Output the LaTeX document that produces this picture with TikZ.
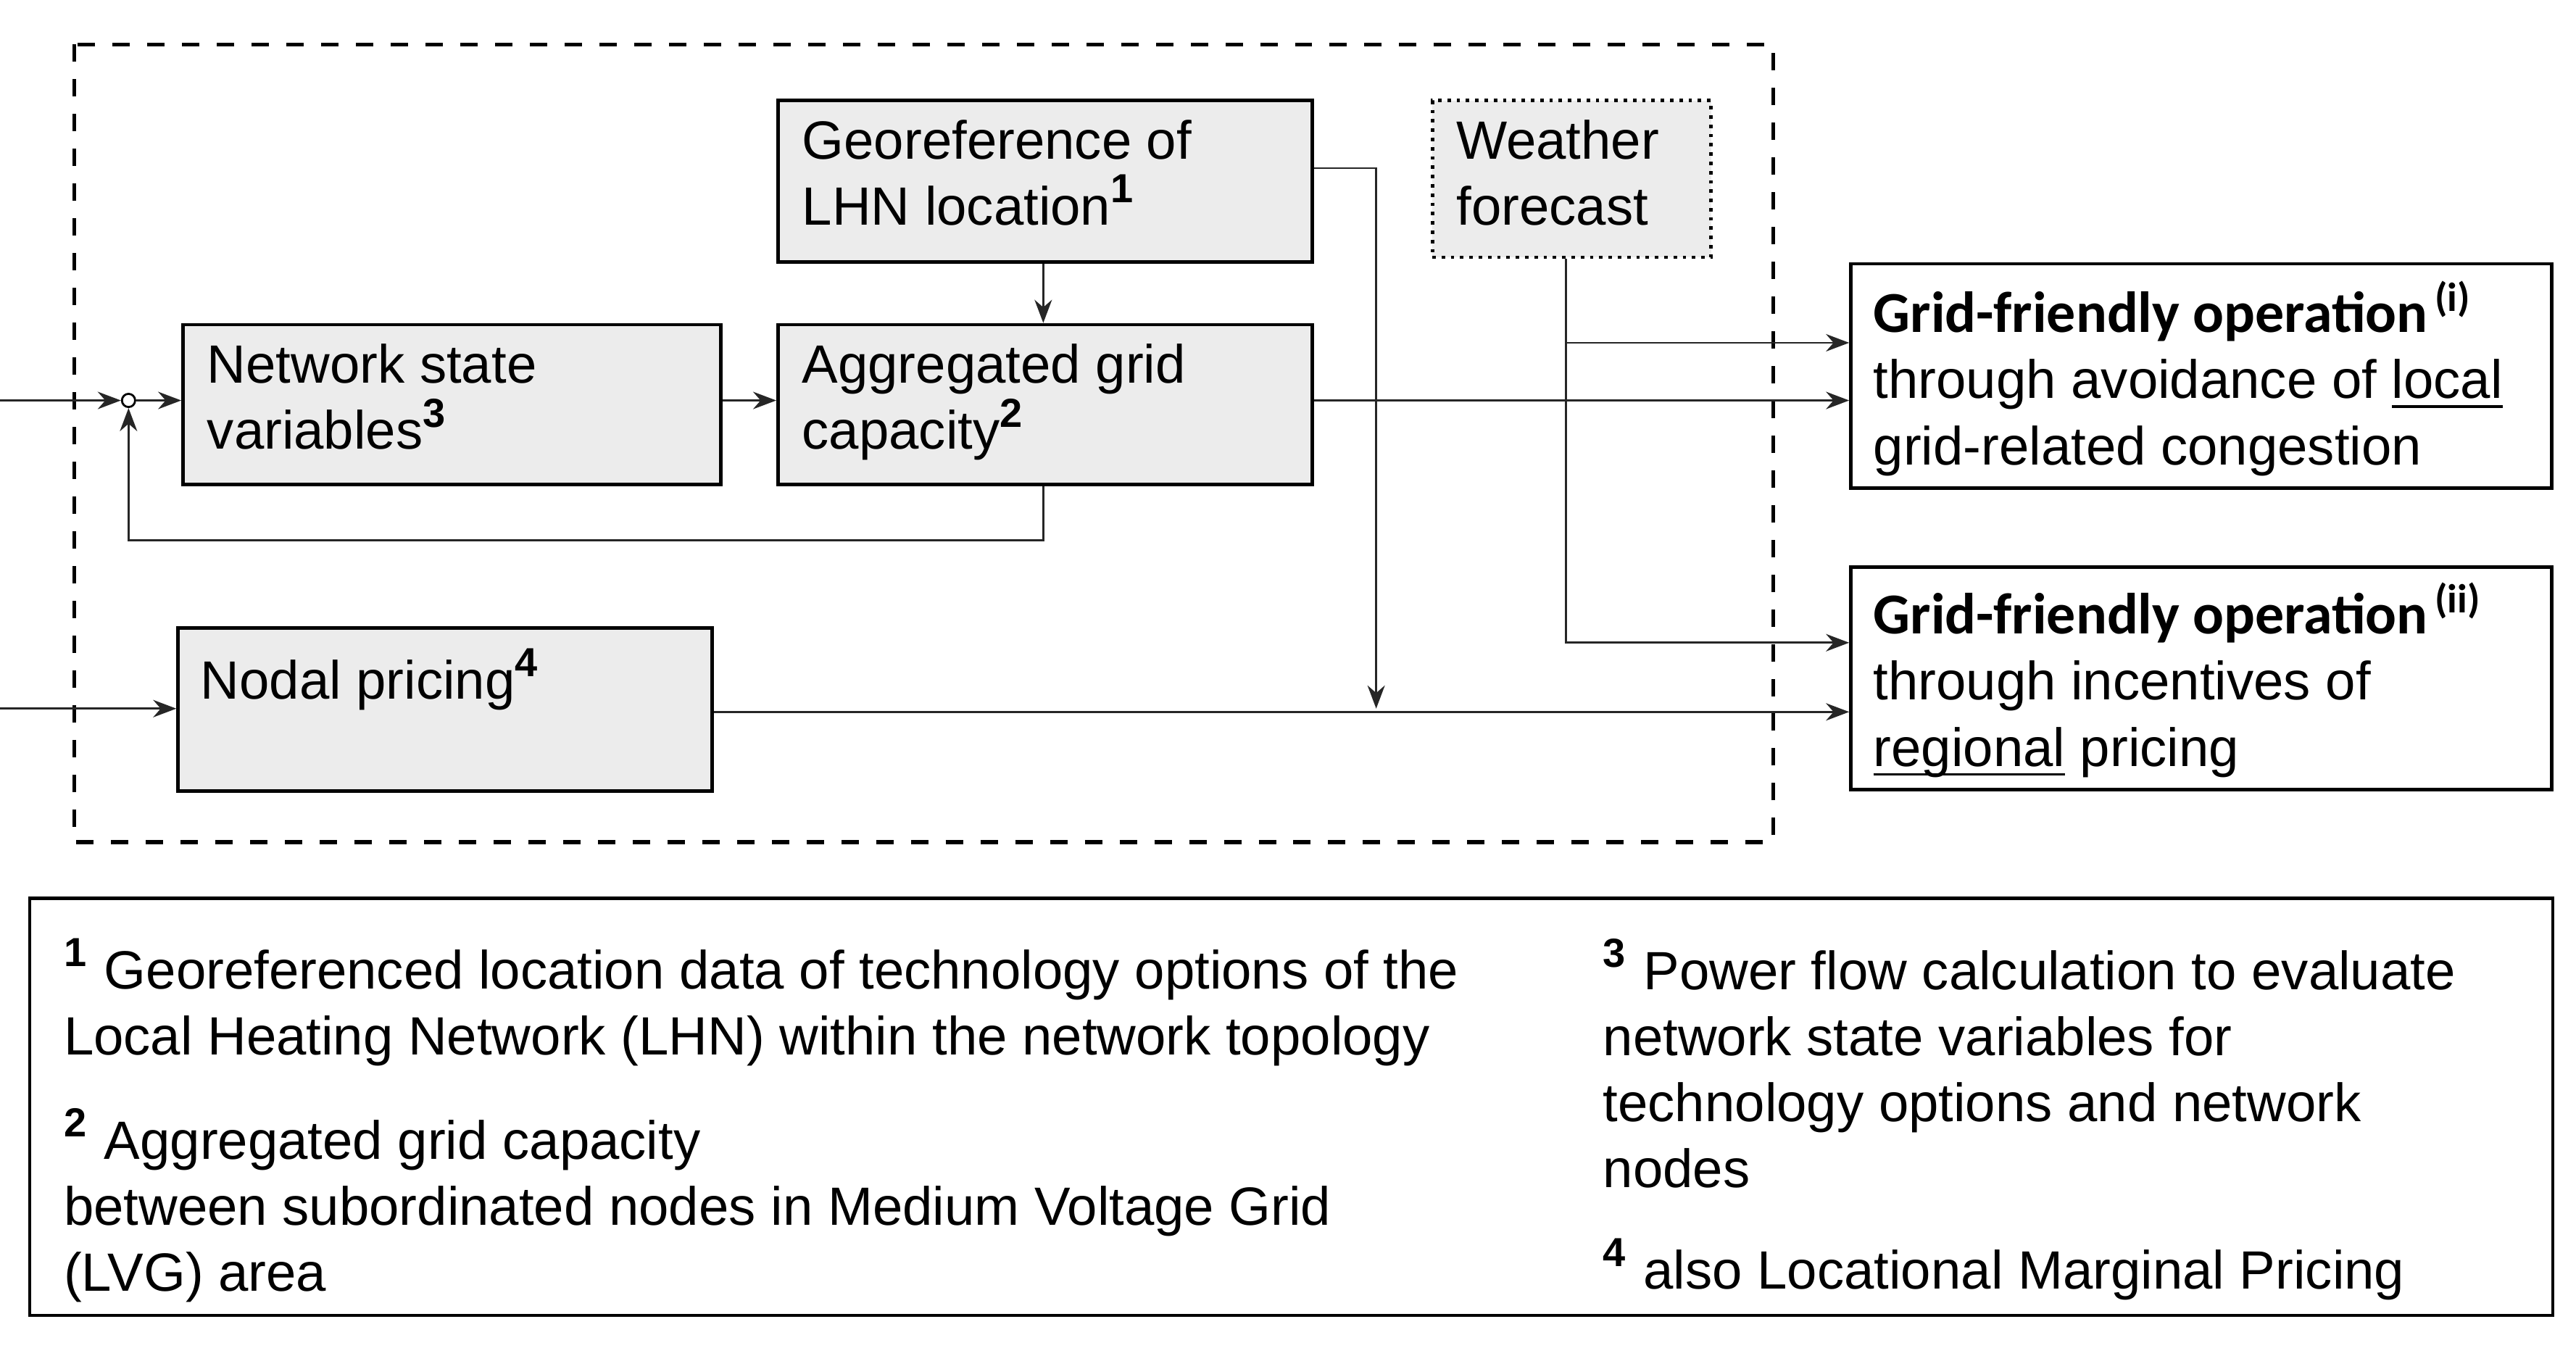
\documentclass[tikz,border=0pt]{standalone}
\usepackage{fontspec}
\setmainfont{Liberation Sans}
\newfontfamily\calib{Carlito}
\usetikzlibrary{calc,arrows.meta}
\newcommand{\sps}[1]{\textsuperscript{\textbf{\scriptsize #1}}}
\newcommand{\myul}[1]{\underline{\smash{#1}}}
\begin{document}
\begin{tikzpicture}[x=0.01cm,y=-0.01cm,
  box/.style={draw,fill=gray!15,line width=0.6pt,anchor=north west,inner sep=0pt},
  obox/.style={draw,line width=0.6pt,anchor=north west,inner sep=0pt},
  txt/.style={anchor=north west,align=left,inner sep=0pt,font=\fontsize{9.3}{11.4}\selectfont},
  con/.style={line width=0.35pt,draw=black!85,-{Stealth[length=4pt,width=3pt]}},
  ln/.style={line width=0.35pt}]
\useasboundingbox (0,0) rectangle (1563,818);
\draw[dashed,line width=0.7pt] (45,27) rectangle (1076,511);
\node[box,minimum width=3.24cm,minimum height=0.98cm] (geo) at (471,60) {};
\node[txt] (geot) at (486,72) {Georeference of\\LHN location\sps{1}};
\node[draw,densely dotted,line width=0.6pt,fill=gray!15,anchor=north west,inner sep=0pt,minimum width=1.69cm,minimum height=0.95cm] (wea) at (868,60) {};
\node[txt] (weat) at (883,72) {Weather\\forecast};
\node[box,minimum width=3.26cm,minimum height=0.97cm] (net) at (110,196) {};
\node[txt] (nett) at (125,208) {Network state\\variables\sps{3}};
\node[box,minimum width=3.24cm,minimum height=0.97cm] (agg) at (471,196) {};
\node[txt] (aggt) at (486,208) {Aggregated grid\\capacity\sps{2}};
\node[box,minimum width=3.24cm,minimum height=0.99cm] (nod) at (107,380) {};
\node[txt] (nodt) at (121,393) {Nodal pricing\sps{4}};
\node[obox,minimum width=4.25cm,minimum height=1.36cm] (o1) at (1122,159) {};
\node[txt] (o1t) at (1136,170) {{\calib\bfseries\fontsize{10}{11.4}\selectfont Grid-friendly operation\textsuperscript{\,(i)}}\\through avoidance of \myul{local}\\grid-related congestion};
\node[obox,minimum width=4.25cm,minimum height=1.35cm] (o2) at (1122,343) {};
\node[txt] (o2t) at (1136,353) {{\calib\bfseries\fontsize{10}{11.4}\selectfont Grid-friendly operation\textsuperscript{\,(ii)}}\\through incentives of\\\myul{regional} pricing};
\node[obox,minimum width=15.30cm,minimum height=2.53cm] (fn) at (17,544) {};
\node[txt] (f1) at (38,569) {\sps{1} Georeferenced location data of technology options of the\\Local Heating Network (LHN) within the network topology};
\node[txt] (f2) at (38,672) {\sps{2} Aggregated grid capacity\\between subordinated nodes in Medium Voltage Grid\\(LVG) area};
\node[txt] (f3) at (972,569) {\sps{3} Power flow calculation to evaluate\\network state variables for\\technology options and network\\nodes};
\node[txt] (f4) at (972,751) {\sps{4} also Locational Marginal Pricing};
% connectors
\node[draw,circle,inner sep=0pt,minimum size=0.08cm,line width=0.35pt] (sum) at (78,243) {};
\coordinate (in1) at (0,243);
\coordinate (in2) at (0,430);
\draw[con] (in1) -- (sum);
\draw[con] (sum) -- (net.west|-sum);
\draw[con] (net.east|-sum) -- (agg.west|-sum);
\draw[con] (geo.south-|633,0) -- (agg.north-|633,0);
\draw[con] (agg.south-|633,0) -- (633,328) -- (78,328) -- (sum);
\draw[con] (agg.east|-sum) -- (o1.west|-sum);
\coordinate (j) at (835,430);
\draw[con] (geo.east|-0,102) -- (835,102) -- (j);
\draw[con] (in2) -- (nod.west|-in2);
\draw[con] (nod.east|-0,432) -- (o2.west|-0,432);
\draw[con] (wea.south-|950,0) -- (950,390) -- (o2.west|-0,390);
\draw[con] (950,208) -- (o1.west|-0,208);
\end{tikzpicture}
\end{document}
